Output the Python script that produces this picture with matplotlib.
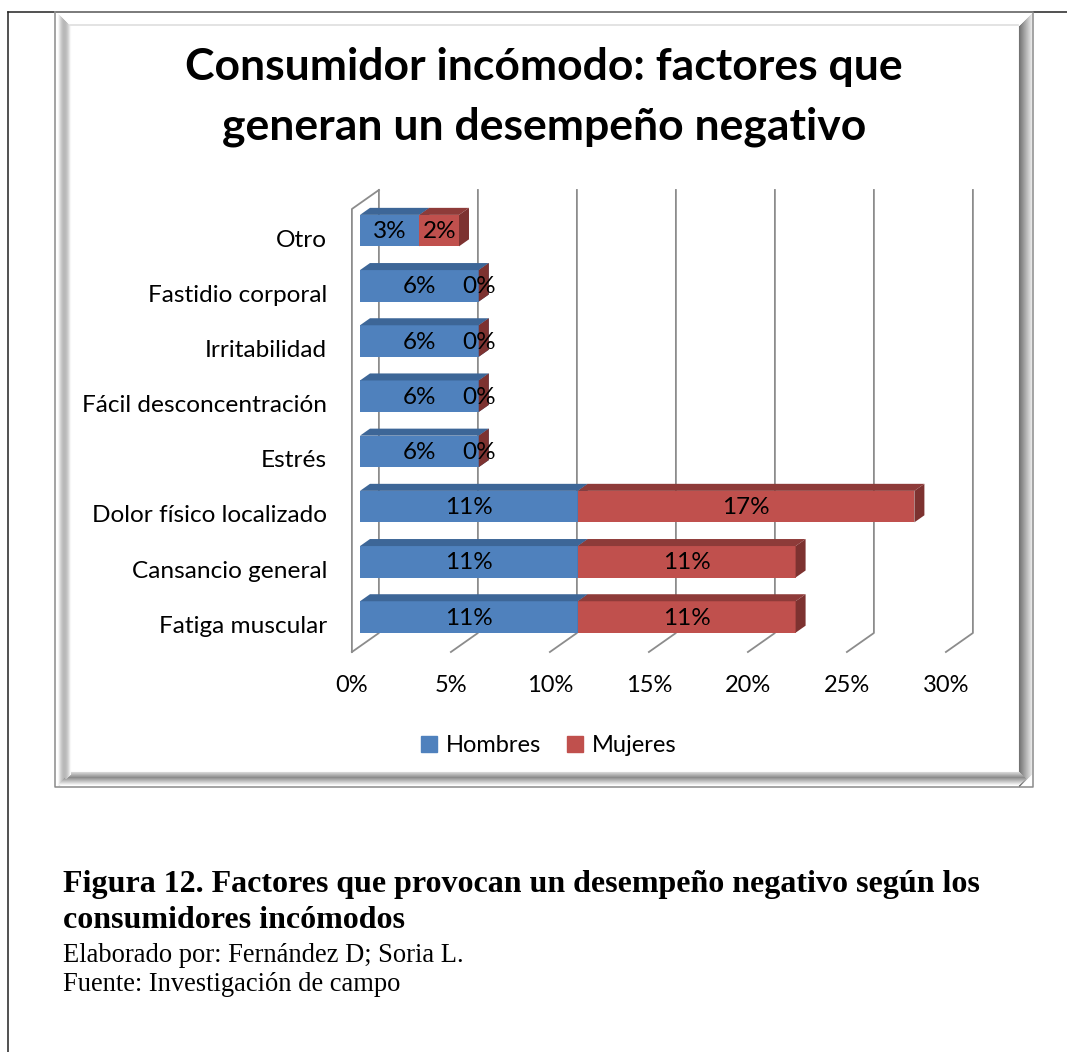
import numpy as np
import matplotlib.pyplot as plt
from matplotlib.patches import Polygon, Patch

# data
categorias = ['Fatiga muscular', 'Cansancio general', 'Dolor físico localizado', 'Estrés',
              'Fácil desconcentración', 'Irritabilidad', 'Fastidio corporal', 'Otro']
hombres = [11, 11, 11, 6, 6, 6, 6, 3]
mujeres = [11, 11, 17, 0, 0, 0, 0, 2]
ticks = [0, 5, 10, 15, 20, 25, 30]
tick_labels = ['0%', '5%', '10%', '15%', '20%', '25%', '30%']

W, H = 1067, 1052
fig = plt.figure(figsize=(W / 100, H / 100), dpi=100)

# page + chart frame drawn in pixel space
bg = fig.add_axes([0, 0, 1, 1])
bg.set_xlim(0, W)
bg.set_ylim(H, 0)
bg.axis('off')
bg.plot([8, 8], [12, H], color='#222222', lw=1.1)
bg.plot([8, W], [12, 12], color='#222222', lw=1.1)

# bevel of the chart area
for k in range(13):
    g = 0.97 - 0.25 * np.sin(np.pi * k / 12)
    bg.plot([58 + k, 58 + k], [14 + k, 786 - k], color=(g, g, g), lw=0.8)
    g2 = 0.45 + 0.45 * (k / 12)
    bg.plot([1019 + k, 1019 + k], [14 + 12 - k, 786 - k], color=(g2, g2, g2), lw=0.8)
    g3 = 0.55 + 0.4 * abs(k - 5) / 7
    bg.plot([58 + 12 - k, 1031 - k], [772 + k, 772 + k], color=(g3, g3, g3), lw=0.8)
bg.plot([70, 1018], [25, 25], color='#dedede', lw=1.2)
bg.plot([55, 1033, 1033, 55, 55], [12, 12, 787, 787, 12], color='#8a8a8a', lw=1.1)

# chart axes: data plane = front face of the bars
ax = fig.add_axes([360 / W, (H - 650.1) / H, 594 / W, (650.1 - 197.5) / H])
ax.set_xlim(0, 30)
ax.set_ylim(-0.6, 7.6)
ax.axis('off')

DX, DY = 27 / 19.8, 19 / 55.2   # depth direction in data units
D0, D1 = 0.3, 0.67              # bar depth range
Y0, Y1 = -0.531, 7.495          # floor and wall top
hh = 0.285


def P(x, y, d):
    return (x + (d - D0) * DX, y + (d - D0) * DY)


wall = '#8c8c8c'
for k in ticks:
    xs, ys = zip(P(k, Y0, 0), P(k, Y0, 1), P(k, Y1, 1))
    ax.plot(xs, ys, color=wall, lw=1.3, clip_on=False, zorder=1)
xs, ys = zip(P(0, Y0, 0), P(0, Y1, 0), P(0, Y1, 1))
ax.plot(xs, ys, color=wall, lw=1.3, clip_on=False, zorder=1)

font = 'Lato'
y = np.arange(len(categorias))
series = [(hombres, np.zeros(len(y)), '#4F81BD', '#3D6697', '#355987'),
          (mujeres, np.array(hombres), '#C0504D', '#8E3B39', '#7D3230')]
for vals, left, c_front, c_top, c_side in series:
    ax.barh(y, vals, left=left, height=2 * hh, color=c_front, zorder=3)
    for i in y:
        a, b = left[i], left[i] + vals[i]
        top = [P(a, i + hh, D0), P(b, i + hh, D0), P(b, i + hh, D1), P(a, i + hh, D1)]
        side = [P(b, i - hh, D0), P(b, i + hh, D0), P(b, i + hh, D1), P(b, i - hh, D1)]
        ax.add_patch(Polygon(top, closed=True, color=c_top, lw=0, zorder=3))
        ax.add_patch(Polygon(side, closed=True, color=c_side, lw=0, zorder=3))
        ax.text((a + b) / 2, i - 0.02, f'{vals[i]}%', ha='center', va='center',
                fontsize=17.5, family=font, zorder=5)

for i, cat in enumerate(categorias):
    ax.text(-1.667, i - 0.17, cat, ha='right', va='center', fontsize=17.6, family=font)
for k, lab in zip(ticks, tick_labels):
    ax.text(k - D0 * DX, -1.25, lab, ha='center', va='center', fontsize=17, family=font)

fig.text(544 / W, 1 - 97 / H, 'Consumidor incómodo: factores que\ngeneran un desempeño negativo',
         ha='center', va='center', fontsize=32, fontweight='bold', family=font, linespacing=1.62)

handles = [Patch(color='#4F81BD'), Patch(color='#C0504D')]
fig.legend(handles, ['Hombres', 'Mujeres'], loc='center', bbox_to_anchor=(549 / W, 1 - 746 / H),
           ncol=2, frameon=False, handlelength=0.65, handleheight=0.65, handletextpad=0.4,
           columnspacing=1.1, prop={'family': font, 'size': 17})

serif = 'Liberation Serif'
fig.text(63 / W, 1 - 892 / H, 'Figura 12. Factores que provocan un desempeño negativo según los',
         family=serif, fontweight='bold', fontsize=23, va='baseline')
fig.text(63 / W, 1 - 928 / H, 'consumidores incómodos',
         family=serif, fontweight='bold', fontsize=23, va='baseline')
fig.text(63 / W, 1 - 962 / H, 'Elaborado por: Fernández D; Soria L.',
         family=serif, fontsize=19.1, va='baseline')
fig.text(63 / W, 1 - 991 / H, 'Fuente: Investigación de campo',
         family=serif, fontsize=19.1, va='baseline')

fig.savefig('out.png', dpi=100)
